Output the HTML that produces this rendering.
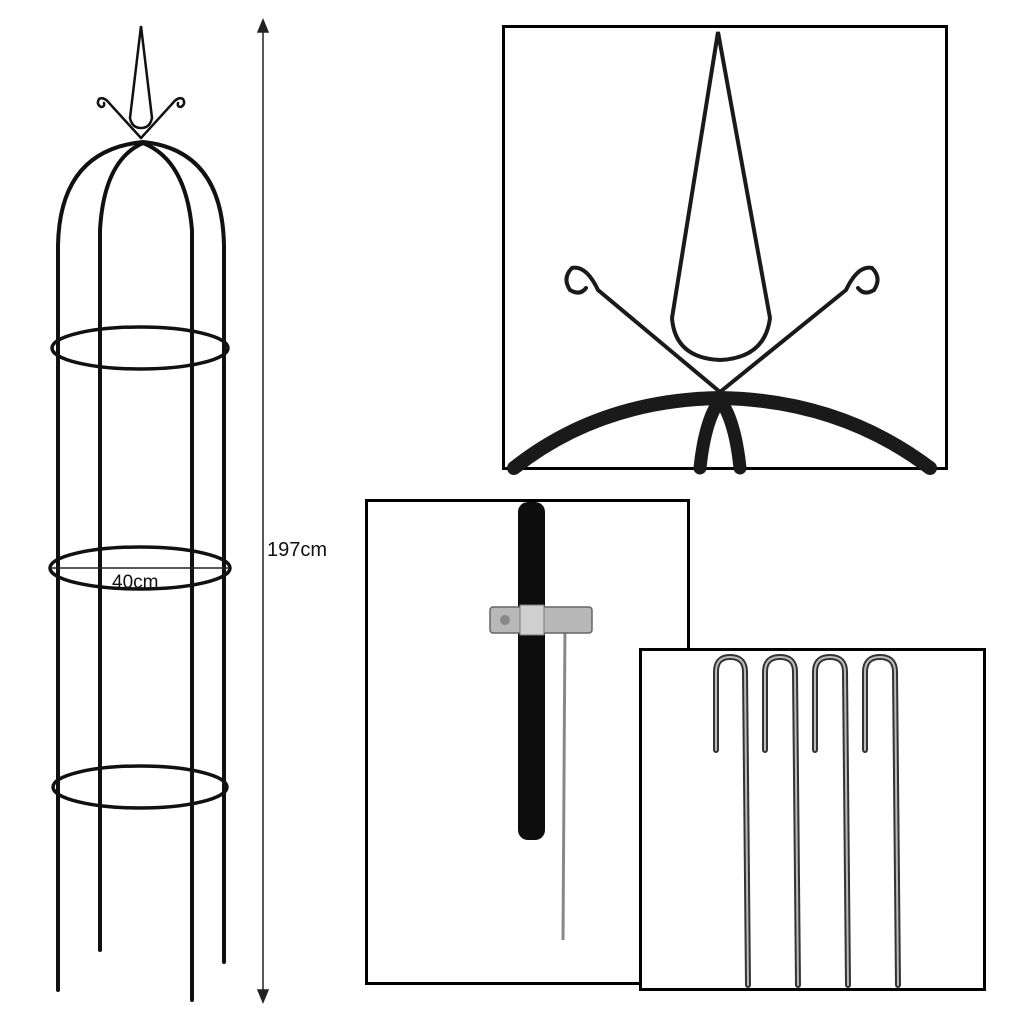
<!DOCTYPE html>
<html><head><meta charset="utf-8"><style>
html,body{margin:0;padding:0;background:#fff;}
svg{display:block;}
text{font-family:"Liberation Sans",sans-serif;}
</style></head><body>
<svg width="1022" height="1022" viewBox="0 0 1022 1022" xmlns="http://www.w3.org/2000/svg">
<rect width="1022" height="1022" fill="#fff"/>
<!-- Obelisk -->
<g fill="none" stroke="#111" stroke-width="4" stroke-linecap="round">
  <path d="M58 990 L58 245 Q60 150 143 142 Q222 150 224 245 L224 962"/>
  <path d="M100 950 L100 230 Q104 160 143 143 Q186 160 192 230 L192 1000"/>
</g>
<g fill="none" stroke="#111" stroke-width="3.5">
  <ellipse cx="140" cy="348" rx="88" ry="21"/>
  <ellipse cx="140" cy="568" rx="90" ry="21"/>
  <ellipse cx="140" cy="787" rx="87" ry="21"/>
</g>
<!-- finial -->
<g fill="none" stroke="#111" stroke-width="2.5" stroke-linecap="round">
  <path d="M141 26 L130 118 Q132 128 141 128 Q150 128 152 118 Z"/>
  <path d="M141 138 L110 104 Q104 96 99 99 Q96 104 101 107 Q105 107 104 103"/>
  <path d="M141 138 L172 104 Q178 96 183 99 Q186 104 181 107 Q177 107 178 103"/>
</g>
<!-- dimension line -->
<g stroke="#222" stroke-width="1.5" fill="#222">
  <line x1="263" y1="24" x2="263" y2="998"/>
  <path d="M263 20 L258 32 L268 32 Z"/>
  <path d="M263 1002 L258 990 L268 990 Z"/>
  <line x1="52" y1="568" x2="228" y2="568"/>
</g>
<text x="267" y="556" font-size="20" fill="#111">197cm</text>
<text x="112" y="588" font-size="19" fill="#111">40cm</text>

<!-- Top right box -->
<rect x="503.5" y="26.5" width="443" height="442" fill="#fff" stroke="#000" stroke-width="3"/>
<g fill="none" stroke="#1a1a1a" stroke-linecap="round">
  <path d="M718 32 L672 318 Q675 358 720 360 Q765 358 770 318 Z" stroke-width="4"/>
  <path d="M720 392 L598 290 Q586 265 572 268 Q562 278 570 290 Q580 296 586 288" stroke-width="4"/>
  <path d="M720 392 L846 290 Q858 265 872 268 Q882 278 874 290 Q864 296 858 288" stroke-width="4"/>
  <path d="M514 468 Q600 400 720 398 Q840 400 930 468" stroke-width="14"/>
  <path d="M700 468 Q705 420 720 400 Q735 420 740 468" stroke-width="13"/>
</g>

<!-- Middle box -->
<rect x="366.5" y="500.5" width="322" height="483" fill="#fff" stroke="#000" stroke-width="3"/>
<rect x="518" y="502" width="27" height="338" rx="10" fill="#0d0d0d"/>
<line x1="565" y1="622" x2="563" y2="940" stroke="#888" stroke-width="3"/>
<rect x="490" y="607" width="102" height="26" rx="3" fill="#b8b8b8" stroke="#666" stroke-width="1.5"/>
<rect x="520" y="605" width="24" height="30" fill="#cfcfcf" stroke="#777"/>
<circle cx="505" cy="620" r="5" fill="#888"/>

<!-- Bottom right box -->
<rect x="640.5" y="649.5" width="344" height="340" fill="#fff" stroke="#000" stroke-width="3"/>
<g fill="none" stroke-linecap="round">
  <g stroke="#333" stroke-width="6">
    <path d="M716 750 L716 672 Q716 657 730 657 Q745 657 745 672 L748 985"/>
    <path d="M765 750 L765 672 Q765 657 780 657 Q795 657 795 672 L798 985"/>
    <path d="M815 750 L815 672 Q815 657 830 657 Q845 657 845 672 L848 985"/>
    <path d="M865 750 L865 672 Q865 657 880 657 Q895 657 895 672 L898 985"/>
  </g>
  <g stroke="#bbb" stroke-width="2">
    <path d="M716 750 L716 672 Q716 657 730 657 Q745 657 745 672 L748 985"/>
    <path d="M765 750 L765 672 Q765 657 780 657 Q795 657 795 672 L798 985"/>
    <path d="M815 750 L815 672 Q815 657 830 657 Q845 657 845 672 L848 985"/>
    <path d="M865 750 L865 672 Q865 657 880 657 Q895 657 895 672 L898 985"/>
  </g>
</g>
</svg>
</body></html>
